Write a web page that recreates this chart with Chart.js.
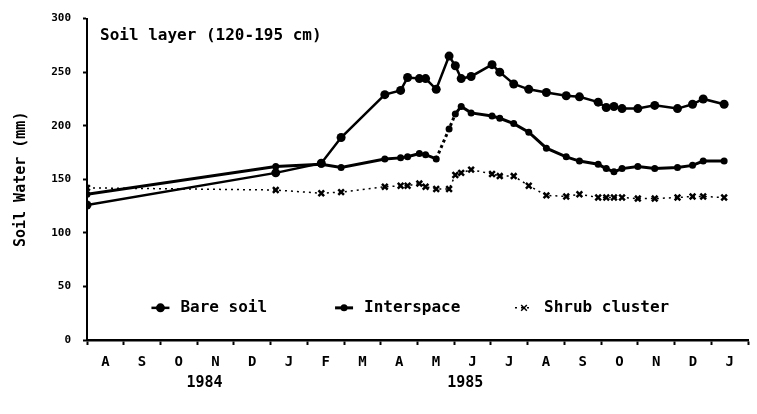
<!DOCTYPE html>
<html>
<head>
<meta charset="utf-8">
<title>Soil layer (120-195 cm)</title>
<script src="https://cdn.jsdelivr.net/npm/chart.js@4.4.1/dist/chart.umd.min.js"></script>
<style>
  html, body { margin: 0; padding: 0; background: #fff; }
  #wrap { width: 757px; height: 414px; }
</style>
</head>
<body>
<div id="wrap"><canvas id="soilWaterChart" width="757" height="414"></canvas></div>
<script>
// month initials along the axis, Aug 1984 .. Jan 1986
var monthLabels = ['A', 'S', 'O', 'N', 'D', 'J', 'F', 'M', 'A', 'M', 'J', 'J', 'A', 'S', 'O', 'N', 'D', 'J'];

// sampling dates, in months since 1 Aug 1984
var sampleMonth = [0, 5.14, 6.38, 6.92, 8.11, 8.54, 8.73, 9.05, 9.22, 9.51, 9.86, 10.03, 10.19, 10.46,
  11.03, 11.24, 11.62, 12.03, 12.51, 13.05, 13.41, 13.92, 14.14, 14.35, 14.57, 15.00, 15.46, 16.08,
  16.49, 16.78, 17.35];

// soil water (mm)
var bareSoil = [126, 156, 165, 189, 229, 233, 245, 244, 244, 234, 265, 256, 244, 246,
  257, 250, 239, 234, 231, 228, 227, 222, 217, 218, 216, 216, 219, 216, 220, 225, 220];
var interspace = [136, 162, 164, 161, 169, 170, 171, 174, 173, 169, 197, 211, 218, 212,
  209, 207, 202, 194, 179, 171, 167, 164, 160, 157, 160, 162, 160, 161, 163, 167, 167];
var shrubCluster = [142, 140, 137, 138, 143, 144, 144, 146, 143, 141, 141, 154, 156, 159,
  155, 153, 153, 144, 135, 134, 136, 133, 133, 133, 133, 132, 132, 133, 134, 134, 133];

var yearLabels = ['1984', '1985'];

var ink = '#000';
var mono = '"DejaVu Sans Mono", monospace';

function toPoints(values) {
  return sampleMonth.map(function(m, i) { return { x: m, y: values[i] }; });
}

// title, legend and year captions drawn over the plot
var overlayPlugin = {
  id: 'overlay',
  afterDraw: function(chart) {
    var ctx = chart.ctx;
    var xs = chart.scales.x, ys = chart.scales.y, area = chart.chartArea;
    ctx.save();
    ctx.fillStyle = ink;
    ctx.strokeStyle = ink;
    ctx.textBaseline = 'middle';
    ctx.textAlign = 'left';
    ctx.font = 'bold 16px ' + mono;
    ctx.fillText('Soil layer (120-195 cm)', area.left + 13, area.top + 17);

    var legendAt = [2, 7, 11.9];
    chart.data.datasets.forEach(function(ds, i) {
      var cx = xs.getPixelForValue(legendAt[i]);
      var cy = ys.getPixelForValue(30);
      ctx.save();
      ctx.lineWidth = ds.borderWidth;
      ctx.setLineDash(ds.borderDash || []);
      ctx.beginPath();
      ctx.moveTo(cx - 9, cy);
      ctx.lineTo(cx + 9, cy);
      ctx.stroke();
      ctx.setLineDash([]);
      Chart.helpers.drawPoint(ctx, {
        pointStyle: ds.pointStyle,
        radius: ds.pointRadius,
        borderWidth: ds.pointBorderWidth,
        rotation: 0
      }, cx, cy);
      ctx.restore();
      ctx.fillText(ds.label, cx + 20, cy);
    });

    ctx.textAlign = 'center';
    ctx.font = 'bold 15px ' + mono;
    var yearAt = [3.2, 10.3];
    yearLabels.forEach(function(t, i) {
      ctx.fillText(t, xs.getPixelForValue(yearAt[i]), area.bottom + 43);
    });
    ctx.restore();
  }
};

var soilWaterChart = new Chart(document.getElementById('soilWaterChart').getContext('2d'), {
  type: 'line',
  data: {
    datasets: [{
      label: 'Bare soil',
      data: toPoints(bareSoil),
      borderColor: ink,
      borderWidth: 2.5,
      pointStyle: 'circle',
      pointRadius: 4.5,
      pointBorderWidth: 0,
      pointBackgroundColor: ink,
      tension: 0
    }, {
      label: 'Interspace',
      data: toPoints(interspace),
      borderColor: ink,
      borderWidth: 3,
      pointStyle: 'circle',
      pointRadius: 3.5,
      pointBorderWidth: 0,
      pointBackgroundColor: ink,
      tension: 0,
      segment: {
        borderDash: function(c) { return (c.p0DataIndex === 9 || c.p0DataIndex === 10) ? [3, 3] : undefined; }
      }
    }, {
      label: 'Shrub cluster',
      data: toPoints(shrubCluster),
      borderColor: ink,
      borderWidth: 1.5,
      borderDash: [2, 4],
      pointStyle: 'crossRot',
      pointRadius: 4,
      pointBorderWidth: 2.5,
      pointBorderColor: ink,
      tension: 0
    }]
  },
  options: {
    responsive: false,
    animation: false,
    layout: { padding: { top: 16, right: 4, left: 0, bottom: 0 } },
    plugins: {
      legend: { display: false },
      tooltip: { enabled: false }
    },
    scales: {
      x: {
        type: 'linear',
        min: 0,
        max: 18,
        afterBuildTicks: function(scale) {
          var t = [];
          for (var v = 0; v <= 18; v += 0.5) t.push({ value: v });
          scale.ticks = t;
        },
        afterFit: function(scale) { scale.height = 74; },
        ticks: {
          autoSkip: false,
          maxRotation: 0,
          padding: 9,
          color: ink,
          font: { family: mono, size: 14, weight: 'bold' },
          callback: function(value) {
            return (value % 1 === 0.5) ? monthLabels[Math.floor(value)] : '';
          }
        },
        grid: {
          drawOnChartArea: false,
          tickLength: 5,
          tickWidth: 2,
          tickColor: function(c) {
            return (c.tick && c.tick.value % 1 === 0) ? ink : 'rgba(0,0,0,0)';
          }
        },
        border: { color: ink, width: 2.5 }
      },
      y: {
        min: 0,
        max: 300,
        afterFit: function(scale) { scale.width = 87; },
        ticks: {
          stepSize: 50,
          padding: 12,
          color: ink,
          font: { family: mono, size: 11, weight: 'bold' }
        },
        grid: {
          drawOnChartArea: false,
          tickLength: 4,
          tickWidth: 2,
          tickColor: ink
        },
        border: { color: ink, width: 2 },
        title: {
          display: true,
          text: 'Soil Water (mm)',
          color: ink,
          font: { family: mono, size: 15, weight: 'bold' },
          padding: { top: 12, bottom: 0 }
        }
      }
    }
  },
  plugins: [overlayPlugin]
});
</script>
</body>
</html>
